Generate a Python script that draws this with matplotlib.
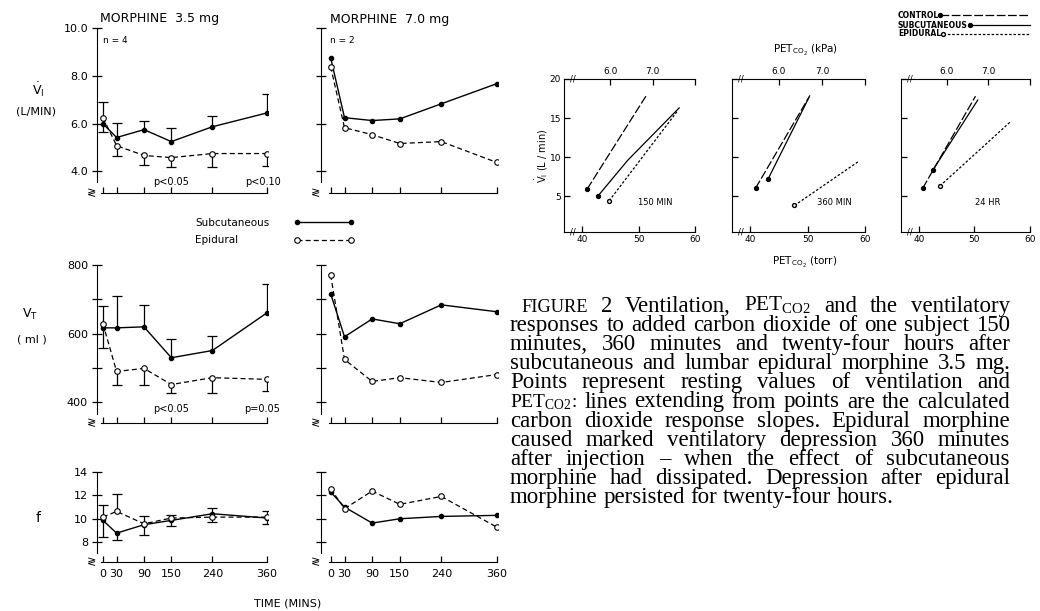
import matplotlib.pyplot as plt

plt.rcParams["font.family"] = ["DejaVu Sans"]
plt.rcParams["mathtext.fontset"] = "dejavusans"

# ---- time course data (left block) ----
times = [0, 30, 90, 150, 240, 360]
time_labels = ["0", "30", "90", "150", "240", "360"]

# ventilation VI (L/min)
vi35_sc = [6.0, 5.42, 5.75, 5.25, 5.87, 6.45]
vi35_sc_hi = [6.92, 6.04, 6.13, 5.8, 6.33, 7.25]
vi35_ep = [6.25, 5.08, 4.67, 4.58, 4.75, 4.75]
vi35_ep_lo = [5.67, 4.63, 4.29, 4.17, 4.17, 4.21]
vi70_sc = [8.75, 6.25, 6.13, 6.2, 6.83, 7.67]
vi70_ep = [8.38, 5.83, 5.54, 5.17, 5.25, 4.38]

# tidal volume VT (ml)
vt35_sc = [617, 617, 620, 530, 551, 661]
vt35_sc_hi = [681, 710, 684, 586, 594, 745]
vt35_ep = [629, 490, 499, 452, 472, 467]
vt35_ep_lo = [559, 452, 452, 426, 426, 432]
vt70_sc = [716, 591, 643, 629, 684, 664]
vt70_ep = [771, 525, 461, 472, 458, 481]

# frequency f
f35_sc = [9.86, 8.77, 9.49, 9.86, 10.43, 10.06]
f35_sc_lo = [8.43, 8.2, 8.63, 9.34, 9.71, 9.57]
f35_ep = [10.14, 10.63, 9.57, 10.06, 10.14, 10.14]
f35_ep_hi = [11.14, 12.14, 10.2, 10.34, 10.94, 10.63]
f70_sc = [12.29, 11.0, 9.63, 10.0, 10.2, 10.29]
f70_ep = [12.57, 10.86, 12.37, 11.23, 11.91, 9.29]

# ---- CO2 response data (right block) ----
co2_titles = ["150 MIN", "360 MIN", "24 HR"]
ctrl_torr = [[40.9, 51.3], [40.9, 50.4], [40.7, 50.2]]
ctrl_vi = [[5.9, 17.8], [6.0, 17.9], [6.0, 17.8]]
sc_torr = [[42.8, 48.1, 57.2], [43.1, 50.2], [42.5, 50.6]]
sc_vi = [[5.0, 9.6, 16.3], [7.2, 17.6], [8.3, 17.3]]
ep_torr = [[44.8, 57.0], [47.7, 58.8], [43.8, 56.6]]
ep_vi = [[4.4, 16.0], [3.8, 9.4], [6.3, 14.6]]

caption = [
    "FIGURE 2  Ventilation, P$\\mathregular{ET_{CO2}}$ and the ventilatory",
    "responses to added carbon dioxide of one subject 150",
    "minutes, 360 minutes and twenty-four hours after",
    "subcutaneous and lumbar epidural morphine 3.5 mg.",
    "Points represent resting values of ventilation and",
    "P$\\mathregular{ET_{CO2}}$: lines extending from points are the calculated",
    "carbon dioxide response slopes. Epidural morphine",
    "caused marked ventilatory depression 360 minutes",
    "after injection \u2013 when the effect of subcutaneous",
    "morphine had dissipated. Depression after epidural",
    "morphine persisted for twenty-four hours.",
]

W, H = 1040, 611
fig = plt.figure(figsize=(10.4, 6.11), dpi=100)


def box(l, t, r, b):
    return [l / W, 1 - b / H, (r - l) / W, (b - t) / H]


def style_time(ax, ylim, yticks, ylabels, spine_bottom, show_x):
    ax.set_ylim(*ylim)
    for s in ("top", "right"):
        ax.spines[s].set_visible(False)
    ax.spines["left"].set_bounds(spine_bottom, ylim[1])
    ax.spines["bottom"].set_bounds(-4, 360)
    ax.set_xticks(times)
    ax.set_xticklabels(time_labels if show_x else [])
    ax.tick_params(axis="x", direction="in", length=4, width=0.9, labelsize=8, pad=5)
    ax.set_yticks(yticks)
    ax.set_yticklabels(ylabels)
    ax.tick_params(axis="y", direction="inout", length=7, width=0.9, labelsize=8, pad=3)
    ax.text(-0.03, 0.0, "\u2277", transform=ax.transAxes, ha="center", va="center", fontsize=8)


def series(ax, sc, ep):
    l1, = ax.plot(times, sc, color="k", lw=1.0, marker="o", ms=3, mfc="k", zorder=3)
    l2, = ax.plot(times, ep, color="k", lw=0.9, ls=(0, (4, 2.5)), marker="o", ms=4,
                  mfc="white", mew=0.8, zorder=4)
    return l1, l2


def whiskers(ax, ys, ends):
    ax.vlines(times, ys, ends, color="k", lw=0.9, zorder=2)
    ax.plot(times, ends, ls="none", marker="_", ms=7, mew=0.9, color="k", zorder=2)


left_x, right_x = (97, 268), (321, 498)
rows = [(28, 193), (265, 423), (472, 562)]

axA = fig.add_axes(box(left_x[0], rows[0][0], left_x[1], rows[0][1]))
axB = fig.add_axes(box(right_x[0], rows[0][0], right_x[1], rows[0][1]))
axC = fig.add_axes(box(left_x[0], rows[1][0], left_x[1], rows[1][1]))
axD = fig.add_axes(box(right_x[0], rows[1][0], right_x[1], rows[1][1]))
axE = fig.add_axes(box(left_x[0], rows[2][0], left_x[1], rows[2][1]))
axF = fig.add_axes(box(right_x[0], rows[2][0], right_x[1], rows[2][1]))

for ax in (axA, axC, axE):
    ax.set_xlim(-13, 362)
for ax in (axB, axD, axF):
    ax.set_xlim(-21, 363)

# VI
whiskers(axA, vi35_sc, vi35_sc_hi)
whiskers(axA, vi35_ep, vi35_ep_lo)
sc_line, ep_line = series(axA, vi35_sc, vi35_ep)
series(axB, vi70_sc, vi70_ep)
vi_ticks = [4, 6, 8, 10]
style_time(axA, (3.1, 10), vi_ticks, ["4.0", "6.0", "8.0", "10.0"], 3.58, False)
style_time(axB, (3.1, 10), vi_ticks, [], 3.58, False)

# VT
whiskers(axC, vt35_sc, vt35_sc_hi)
whiskers(axC, vt35_ep, vt35_ep_lo)
series(axC, vt35_sc, vt35_ep)
series(axD, vt70_sc, vt70_ep)
vt_ticks = [400, 500, 600, 700, 800]
style_time(axC, (340, 800), vt_ticks, ["400", "", "600", "", "800"], 365, False)
style_time(axD, (340, 800), vt_ticks, [], 365, False)

# f
whiskers(axE, f35_sc, f35_sc_lo)
whiskers(axE, f35_ep, f35_ep_hi)
series(axE, f35_sc, f35_ep)
series(axF, f70_sc, f70_ep)
f_ticks = [8, 10, 12, 14]
style_time(axE, (6.3, 14), f_ticks, ["8", "10", "12", "14"], 7.05, True)
style_time(axF, (6.3, 14), f_ticks, [], 7.05, True)

axA.text(0.02, 1.06, "MORPHINE  3.5 mg", transform=axA.transAxes, fontsize=9, va="center")
axB.text(0.05, 1.05, "MORPHINE  7.0 mg", transform=axB.transAxes, fontsize=9, va="center")
axA.text(0.035, 0.925, "n = 4", transform=axA.transAxes, fontsize=6.5, va="center")
axB.text(0.05, 0.925, "n = 2", transform=axB.transAxes, fontsize=6.5, va="center")
axA.text(150, 3.55, "p<0.05", fontsize=7, ha="center", va="center")
axA.text(350, 3.55, "p<0.10", fontsize=7, ha="center", va="center")
axC.text(150, 382, "p<0.05", fontsize=7, ha="center", va="center")
axC.text(350, 382, "p=0.05", fontsize=7, ha="center", va="center")

fig.text(38 / W, 1 - 90 / H, r"$\dot{\mathrm{V}}_{\mathrm{I}}$", fontsize=9, ha="center", va="center")
fig.text(36 / W, 1 - 112 / H, "(L/MIN)", fontsize=8, ha="center", va="center")
fig.text(30 / W, 1 - 314 / H, r"$\mathregular{V_T}$", fontsize=9, ha="center", va="center")
fig.text(32 / W, 1 - 339 / H, "( ml )", fontsize=8, ha="center", va="center")
fig.text(38 / W, 1 - 518 / H, "f", fontsize=10, ha="center", va="center")
fig.text(288 / W, 1 - 603 / H, "TIME (MINS)", fontsize=8, ha="center", va="center")


def key(handle, x, y, length, fs, loc, numpoints=1, first_only=False):
    leg = fig.legend([handle], [" "], loc=loc, bbox_to_anchor=(x / W, 1 - y / H),
                     frameon=False, borderpad=0, borderaxespad=0, handletextpad=0,
                     handlelength=length, numpoints=numpoints, markerfirst=(loc != "center right"),
                     fontsize=fs)
    if first_only:
        leg.legend_handles[0].set_markevery([0])
    return leg


fig.text(195 / W, 1 - 223 / H, "Subcutaneous", fontsize=7.5, va="center")
fig.text(195 / W, 1 - 240 / H, "Epidural", fontsize=7.5, va="center")
key(sc_line, 294, 223, 60 / (7.5 * 100 / 72), 7.5, "center left", numpoints=2)
key(ep_line, 294, 241, 60 / (7.5 * 100 / 72), 7.5, "center left", numpoints=2)

# ---- CO2 response panels ----
co2_boxes = [(564, 695), (732, 865), (901, 1030)]
co2_handles = None
for i, (l, r) in enumerate(co2_boxes):
    ax = fig.add_axes(box(l, 79, r, 232))
    c, = ax.plot(ctrl_torr[i], ctrl_vi[i], color="k", lw=0.9, ls=(0, (7, 2)),
                 marker="o", ms=2.8, markevery=[0])
    s, = ax.plot(sc_torr[i], sc_vi[i], color="k", lw=0.9, marker="o", ms=2.8, markevery=[0])
    e, = ax.plot(ep_torr[i], ep_vi[i], color="k", lw=0.9, ls=(0, (2, 1.5)),
                 marker="o", ms=2.8, mfc="white", markevery=[0])
    if co2_handles is None:
        co2_handles = (c, s, e)
    ax.set_xlim(36.8, 60)
    ax.set_ylim(0.4, 20)
    ax.spines["right"].set_visible(False)
    ax.spines["top"].set_visible(False)
    ax.set_xticks([40, 50, 60])
    ax.set_xticklabels(["40", "50", "60"])
    ax.set_yticks([5, 10, 15, 20])
    ax.set_yticklabels(["5", "10", "15", "20"] if i == 0 else [])
    ax.tick_params(direction="in", length=4, width=0.9, labelsize=6.5, pad=2)
    top = ax.secondary_xaxis("top", functions=(lambda t: t / 7.5, lambda k: k * 7.5))
    top.set_xticks([6.0, 7.0, 8.0])
    top.set_xticklabels(["6.0", "7.0", ""])
    top.tick_params(direction="in", length=4, width=0.9, labelsize=6.5, pad=2)
    for yy in (0.0, 1.0):
        ax.text(0.07, yy, "//", transform=ax.transAxes, fontsize=6, ha="center", va="center")
    tx = {0: 0.695, 1: 0.77, 2: 0.674}[i]
    ax.text(tx, 0.196, co2_titles[i], transform=ax.transAxes, fontsize=6, ha="center", va="center")
    if i == 0:
        ax.text(-0.17, 0.5, r"$\dot{\mathrm{V}}_{\mathrm{I}}$ (L / min)", transform=ax.transAxes,
                rotation=90, fontsize=7, ha="center", va="center")

fig.text(805 / W, 1 - 50 / H, r"P$\mathregular{ET_{CO_2}}$ (kPa)", fontsize=7.5, ha="center", va="center")
fig.text(805 / W, 1 - 262 / H, r"P$\mathregular{ET_{CO_2}}$ (torr)", fontsize=7.5, ha="center", va="center")

# small legend, top right
fs_key = 5.5
px = fs_key * 100 / 72
for lab, h, y, ln in zip(["CONTROL", "SUBCUTANEOUS", "EPIDURAL"], co2_handles, [15, 25, 34], [90, 60, 87]):
    fig.text(898 / W, 1 - y / H, lab, fontsize=fs_key, weight="bold", va="center")
    key(h, 1030, y, ln / px, fs_key, "center right", first_only=True)

# ---- caption, justified ----
cap_fs = 16.5
r = fig.canvas.get_renderer()
x0, x1 = 510, 1010
for k, line in enumerate(caption):
    words = line.split()
    yb_px = 307 + 19.1 * k + 5
    arts = []
    for w in words:
        size = cap_fs * 0.8 if w == "FIGURE" else cap_fs
        lift = 0
        if "$" in w:
            size = cap_fs * (0.92 if k == 0 else 0.85)
            lift = 2 if k == 0 else 0
        arts.append(fig.text(0, 1 - (yb_px - lift) / H, w, fontsize=size,
                             family="Liberation Serif", va="baseline"))
    widths = [a.get_window_extent(r).width for a in arts]
    start = x0 + (11 if k == 0 else 0)
    if k < len(caption) - 1:
        gap = (x1 - start - sum(widths)) / (len(words) - 1)
    else:
        gap = cap_fs * 0.25 * 100 / 72
    x = start
    for a, wd in zip(arts, widths):
        a.set_x(x / W)
        x += wd + gap

fig.savefig("out.png", dpi=100)
